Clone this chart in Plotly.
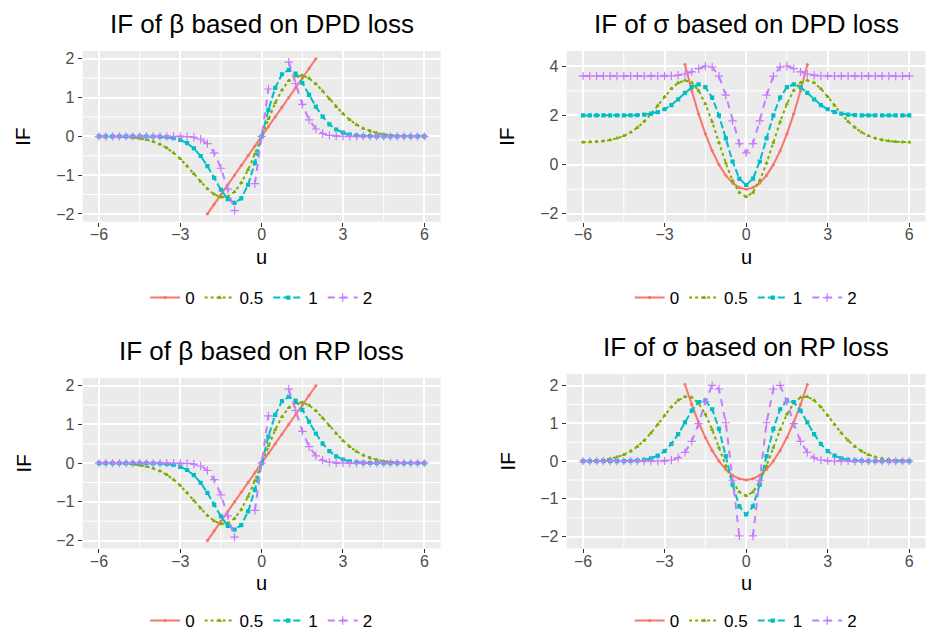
import plotly.graph_objects as go

W, H = 936, 632

# ---------------- data ----------------
u = [-6, -5.75, -5.5, -5.25, -5, -4.75, -4.5, -4.25, -4, -3.75, -3.5, -3.25,
     -3, -2.75, -2.5, -2.25, -2, -1.75, -1.5, -1.25, -1, -0.75, -0.5, -0.25,
     0, 0.25, 0.5, 0.75, 1, 1.25, 1.5, 1.75, 2, 2.25, 2.5, 2.75, 3, 3.25,
     3.5, 3.75, 4, 4.25, 4.5, 4.75, 5, 5.25, 5.5, 5.75, 6]

alpha_labels = ["0", "0.5", "1", "2"]

N = None
beta_dpd_a0 = [N] * 16 + [-2, -1.75, -1.5, -1.25, -1, -0.75, -0.5, -0.25, 0,
                          0.25, 0.5, 0.75, 1, 1.25, 1.5, 1.75, 2] + [N] * 16
beta_dpd_a05 = [-0.001, -0.003, -0.005, -0.010, -0.018, -0.031, -0.052, -0.085,
                -0.135, -0.205, -0.301, -0.426, -0.581, -0.763, -0.963, -1.166,
                -1.352, -1.495, -1.570, -1.554, -1.431, -1.197, -0.863, -0.452,
                0, 0.452, 0.863, 1.197, 1.431, 1.554, 1.570, 1.495, 1.352,
                1.166, 0.963, 0.763, 0.581, 0.426, 0.301, 0.205, 0.135, 0.085,
                0.052, 0.031, 0.018, 0.010, 0.005, 0.003, 0.001]
beta_dpd_a1 = [0, 0, 0, 0, 0, 0, -0.001, -0.001, -0.004, -0.009, -0.022, -0.047,
               -0.094, -0.177, -0.311, -0.506, -0.766, -1.071, -1.377, -1.619,
               -1.716, -1.601, -1.248, -0.685, 0, 0.685, 1.248, 1.601, 1.716,
               1.619, 1.377, 1.071, 0.766, 0.506, 0.311, 0.177, 0.094, 0.047,
               0.022, 0.009, 0.004, 0.001, 0.001, 0, 0, 0, 0, 0, 0]
beta_dpd_a2 = [0, 0, 0, 0, 0, 0, 0, 0, 0, 0, 0, 0, -0.002, -0.007, -0.025,
               -0.074, -0.190, -0.425, -0.822, -1.362, -1.912, N, N, -1.221, 0,
               1.221, N, N, 1.912, 1.362, 0.822, 0.425, 0.190, 0.074, 0.025,
               0.007, 0.002, 0, 0, 0, 0, 0, 0, 0, 0, 0, 0, 0, 0]

beta_rp_a0 = list(beta_dpd_a0)
beta_rp_a05 = list(beta_dpd_a05)
beta_rp_a1 = list(beta_dpd_a1)
beta_rp_a2 = list(beta_dpd_a2)

sigma_dpd_a0 = [N] * 15 + [4.0625, 3, 2.0625, 1.25, 0.5625, 0, -0.4375, -0.75,
                           -0.9375, -1, -0.9375, -0.75, -0.4375, 0, 0.5625,
                           1.25, 2.0625, 3, 4.0625] + [N] * 15
sigma_dpd_a05 = [0.910, 0.918, 0.934, 0.960, 1.002, 1.069, 1.169, 1.311, 1.506,
                 1.756, 2.060, 2.403, 2.759, 3.084, 3.326, 3.426, 3.333, 3.014,
                 2.470, 1.739, 0.900, 0.062, -0.653, -1.135, -1.305, -1.135,
                 -0.653, 0.062, 0.900, 1.739, 2.470, 3.014, 3.333, 3.426, 3.326,
                 3.084, 2.759, 2.403, 2.060, 1.756, 1.506, 1.311, 1.169, 1.069,
                 1.002, 0.960, 0.934, 0.918, 0.910]
sigma_dpd_a1 = [2.000, 2.000, 2.000, 2.000, 2.000, 2.001, 2.002, 2.006, 2.014,
                2.033, 2.070, 2.138, 2.251, 2.423, 2.653, 2.914, 3.148, 3.262,
                3.148, 2.728, 2.000, 1.066, 0.128, -0.570, -0.828, -0.570, 0.128,
                1.066, 2.000, 2.728, 3.148, 3.262, 3.148, 2.914, 2.653, 2.423,
                2.251, 2.138, 2.070, 2.033, 2.014, 2.006, 2.002, 2.001, 2.000,
                2.000, 2.000, 2.000, 2.000]
sigma_dpd_a2 = [3.600, 3.600, 3.600, 3.600, 3.600, 3.600, 3.600, 3.600, 3.600,
                3.600, 3.600, 3.601, 3.603, 3.611, 3.632, 3.680, 3.771, 3.901,
                4.011, 3.968, 3.600, 2.823, 1.779, 0.854, 0.482, 0.854, 1.779,
                2.823, 3.600, 3.968, 4.011, 3.901, 3.771, 3.680, 3.632, 3.611,
                3.603, 3.601, 3.600, 3.600, 3.600, 3.600, 3.600, 3.600, 3.600,
                3.600, 3.600, 3.600, 3.600]

sigma_rp_a0 = [N] * 15 + [2.031, 1.5, 1.031, 0.625, 0.281, 0, -0.219, -0.375,
                          -0.469, -0.5, -0.469, -0.375, -0.219, 0, 0.281, 0.625,
                          1.031, 1.5, 2.031] + [N] * 15
sigma_rp_a05 = [0.006, 0.012, 0.021, 0.038, 0.065, 0.107, 0.171, 0.262, 0.387,
                0.549, 0.746, 0.972, 1.210, 1.435, 1.613, 1.708, 1.690, 1.535,
                1.243, 0.835, 0.358, -0.125, -0.539, -0.820, -0.919, -0.820,
                -0.539, -0.125, 0.358, 0.835, 1.243, 1.535, 1.690, 1.708, 1.613,
                1.435, 1.210, 0.972, 0.746, 0.549, 0.387, 0.262, 0.171, 0.107,
                0.065, 0.038, 0.021, 0.012, 0.006]
sigma_rp_a1 = [0, 0, 0, 0, 0, 0.001, 0.002, 0.006, 0.015, 0.034, 0.073, 0.145,
               0.267, 0.455, 0.715, 1.027, 1.340, 1.568, 1.607, 1.376, 0.858,
               0.133, -0.624, -1.199, -1.414, -1.199, -0.624, 0.133, 0.858,
               1.376, 1.607, 1.568, 1.340, 1.027, 0.715, 0.455, 0.267, 0.145,
               0.073, 0.034, 0.015, 0.006, 0.002, 0.001, 0, 0, 0, 0, 0]
sigma_rp_a2 = [0, 0, 0, 0, 0, 0, 0, 0, 0, 0, 0, 0.002, 0.008, 0.029, 0.089,
               0.233, 0.523, 0.995, 1.575, 2.008, 1.912, 1.018, -0.506, -1.983,
               N, -1.983, -0.506, 1.018, 1.912, 2.008, 1.575, 0.995, 0.523,
               0.233, 0.089, 0.029, 0.008, 0.002, 0, 0, 0, 0, 0, 0, 0, 0, 0,
               0, 0]

x_ticks = [-6, -3, 0, 3, 6]

# ---------------- styling ----------------
colors = ["#F8766D", "#7CAE00", "#00BFC4", "#C77CFF"]
dashes = ["solid", "3px,3px", "7px,3px", "7px,6px"]
symbols = ["circle", "triangle-up", "square", "cross-thin-open"]
msizes = [2, 2.5, 3, 6]
FONT = "Liberation Sans, Arial, Helvetica, sans-serif"

panels = [
    dict(title="IF of β based on DPD loss",
         series=[beta_dpd_a0, beta_dpd_a05, beta_dpd_a1, beta_dpd_a2],
         px=(82.7, 440.6), py=(51, 221.7), yr=[-2.2, 2.2],
         yt=[-2, -1, 0, 1, 2], ym=[-1.5, -0.5, 0.5, 1.5], ly=298),
    dict(title="IF of σ based on DPD loss",
         series=[sigma_dpd_a0, sigma_dpd_a05, sigma_dpd_a1, sigma_dpd_a2],
         px=(566.7, 925.6), py=(51, 221.7), yr=[-2.32, 4.62],
         yt=[-2, 0, 2, 4], ym=[-1, 1, 3], ly=298),
    dict(title="IF of β based on RP loss",
         series=[beta_rp_a0, beta_rp_a05, beta_rp_a1, beta_rp_a2],
         px=(82.7, 440.6), py=(378, 548.3), yr=[-2.2, 2.2],
         yt=[-2, -1, 0, 1, 2], ym=[-1.5, -0.5, 0.5, 1.5], ly=621),
    dict(title="IF of σ based on RP loss",
         series=[sigma_rp_a0, sigma_rp_a05, sigma_rp_a1, sigma_rp_a2],
         px=(566.7, 925.6), py=(374, 548.3), yr=[-2.31, 2.31],
         yt=[-2, -1, 0, 1, 2], ym=[-1.5, -0.5, 0.5, 1.5], ly=621),
]

fig = go.Figure()
layout = dict(width=W, height=H,
              margin=dict(l=0, r=0, t=0, b=0, autoexpand=False),
              paper_bgcolor="white", plot_bgcolor="#EBEBEB",
              font=dict(family=FONT, color="black"), annotations=[], shapes=[])

for i, p in enumerate(panels):
    k = "" if i == 0 else str(i + 1)
    xa, ya = "x" + k, "y" + k
    leg = "legend" + k
    xd = [p["px"][0] / W, p["px"][1] / W]
    yd = [1 - p["py"][1] / H, 1 - p["py"][0] / H]
    # minor grid lines (drawn beneath data)
    for xm in [-4.5, -1.5, 1.5, 4.5]:
        layout["shapes"].append(dict(type="line", xref=xa, yref=ya + " domain",
                                     x0=xm, x1=xm, y0=0, y1=1, layer="below",
                                     line=dict(color="white", width=1)))
    for yv in p["ym"]:
        layout["shapes"].append(dict(type="line", xref=xa + " domain", yref=ya,
                                     x0=0, x1=1, y0=yv, y1=yv, layer="below",
                                     line=dict(color="white", width=1)))
    for j, ser in enumerate(p["series"]):
        fig.add_trace(go.Scatter(
            x=u, y=ser, xaxis=xa, yaxis=ya, mode="lines+markers",
            name=alpha_labels[j], legend=leg, connectgaps=False,
            line=dict(color=colors[j], width=2, dash=dashes[j]),
            marker=dict(color=colors[j], size=msizes[j], symbol=symbols[j],
                        line=dict(color=colors[j], width=1.2)),
            hoverinfo="skip"))
    axcommon = dict(showline=False, zeroline=False, showgrid=True,
                    gridcolor="white", gridwidth=2, ticks="outside",
                    ticklen=4, tickwidth=1.3, tickcolor="#333333",
                    automargin=False,
                    tickfont=dict(family=FONT, size=16, color="#4D4D4D"))
    layout["xaxis" + k] = dict(domain=xd, anchor=ya, range=[-6.6, 6.6],
                               tickvals=x_ticks, ticklabelstandoff=-6,
                               ticktext=[("−" + str(-t)) if t < 0 else str(t)
                                         for t in x_ticks], **axcommon)
    layout["yaxis" + k] = dict(domain=yd, anchor=xa, range=p["yr"],
                               tickvals=p["yt"],
                               ticktext=[("−" + str(-t)) if t < 0 else str(t)
                                         for t in p["yt"]], **axcommon)
    cx = (p["px"][0] + p["px"][1]) / 2
    # panel title
    layout["annotations"].append(dict(
        text=p["title"], x=cx / W, y=1 - (p["py"][0] - 27) / H,
        xref="paper", yref="paper", showarrow=False, xanchor="center",
        yanchor="middle", font=dict(family=FONT, size=26, color="black")))
    # x axis title
    layout["annotations"].append(dict(
        text="u", x=cx / W, y=1 - (p["py"][1] + 35) / H,
        xref="paper", yref="paper", showarrow=False, xanchor="center",
        yanchor="middle", font=dict(family=FONT, size=20, color="black")))
    # y axis title
    layout["annotations"].append(dict(
        text="IF", x=(p["px"][0] - 60) / W,
        y=1 - ((p["py"][0] + p["py"][1]) / 2) / H,
        xref="paper", yref="paper", showarrow=False, xanchor="center",
        yanchor="middle", textangle=-90,
        font=dict(family=FONT, size=21, color="black")))
    # legend
    layout[leg] = dict(orientation="h", x=cx / W, y=1 - p["ly"] / H,
                       xanchor="center", yanchor="middle",
                       bgcolor="rgba(0,0,0,0)",
                       font=dict(family=FONT, size=17, color="black"),
                       itemwidth=30, tracegroupgap=0)

fig.update_layout(**layout)
fig.write_html(
    "out.html",
    config={"displayModeBar": False},
    post_script="document.body.style.margin='0';"
                "document.body.style.overflow='hidden';")
